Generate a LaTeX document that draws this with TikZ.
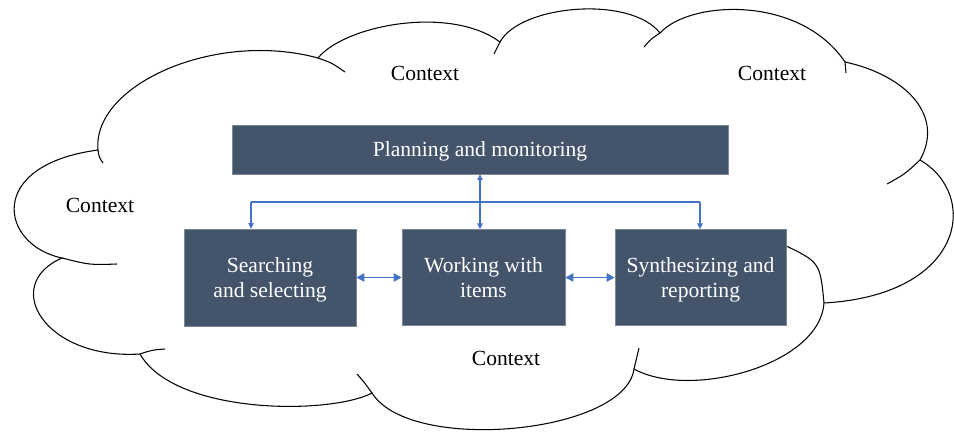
\documentclass[tikz,border=0pt]{standalone}
\usepackage{fontspec}
\setmainfont{Liberation Serif}
\usepackage{xcolor}
\usepackage{tikz}
\usetikzlibrary{arrows.meta, positioning}

\definecolor{slate}{HTML}{44546A}
\definecolor{linkblue}{HTML}{4472C4}

\begin{document}
\begin{tikzpicture}[
        x=0.03cm, y=-0.03cm,
        cloudline/.style={draw=black, line width=0.9pt},
        task/.style={rectangle, fill=slate, draw=slate!70, line width=0.4pt, text=white, align=center, text depth=-2.5pt, font=\fontsize{18.4}{21.3}\selectfont},
        ctx/.style={font=\fontsize{18.4}{21.3}\selectfont},
        arrow/.style={draw=linkblue, line width=1.6pt, <->, >={Triangle[length=7pt,width=7pt]}},
        thinarrow/.style={draw=linkblue, line width=1pt, ->, >={Triangle[length=5pt,width=4.5pt]}}
    ]
    \useasboundingbox (0,0) rectangle (954,432);

    % cloud outline
    \draw [cloudline, fill=white] (98,150)
        .. controls (92,85) and (215,30) .. (318,58)
        .. controls (345,25) and (450,5) .. (500,42)
        .. controls (520,5) and (630,-5) .. (660,33)
        .. controls (690,0) and (800,-5) .. (845,62)
        .. controls (905,75) and (945,115) .. (920,160)
        .. controls (980,195) and (965,295) .. (824,303)
        .. controls (820,365) and (690,400) .. (634,369)
        .. controls (625,434) and (410,454) .. (372,393)
        .. controls (330,415) and (175,415) .. (140,354)
        .. controls (45,360) and (0,285) .. (62,258)
        .. controls (0,245) and (-15,165) .. cycle;
    % inner puff ends
    \draw [cloudline] (98,150) .. controls (99,157) .. (103,163);
    \draw [cloudline] (318,58) .. controls (332,63) .. (345,72);
    \draw [cloudline] (494,54) .. controls (497,48) .. (500,42);
    \draw [cloudline] (644,47) .. controls (651,39) .. (660,33);
    \draw [cloudline] (845,62) .. controls (846,67) .. (846,73);
    \draw [cloudline] (920,160) .. controls (905,174) .. (887,184);
    \draw [cloudline] (782,244) .. controls (820,262) .. (824,303);
    \draw [cloudline] (639,348) .. controls (637,358) .. (634,369);
    \draw [cloudline] (372,393) .. controls (364,382) .. (357,374);
    \draw [cloudline] (140,354) .. controls (152,350) .. (165,349);
    \draw [cloudline] (62,258) .. controls (90,265) .. (117,264);

    \node (ctxtop) [ctx] at (425,73) {Context};
    \node (ctxright) [ctx] at (772,73) {Context};
    \node (ctxleft) [ctx] at (100,205) {Context};
    \node (ctxbottom) [ctx] at (506,358) {Context};

    \node (plan) [task, minimum width=14.88cm, minimum height=1.47cm] at (480,149.5) {Planning and monitoring};
    \node (search) [task, minimum width=5.16cm, minimum height=2.9cm] at (270,277.5) {Searching\\and selecting};
    \node (work) [task, minimum width=4.89cm, minimum height=2.88cm] at (483.5,277.5) {Working with\\items};
    \node (synth) [task, minimum width=5.13cm, minimum height=2.88cm] at (700.5,277.5) {Synthesizing and\\reporting};

    \coordinate (busL) at (251,202);
    \coordinate (busR) at (700,202);

    \draw [arrow] (search) -- (work);
    \draw [arrow] (work) -- (synth);
    \draw [thinarrow, <->] (plan.south) -- (plan.south |- work.north);
    \draw [draw=linkblue, line width=1pt] (busL) -- (busR);
    \draw [thinarrow] (busL) -- (busL |- search.north);
    \draw [thinarrow] (busR) -- (busR |- synth.north);

    \end{tikzpicture}
\end{document}
